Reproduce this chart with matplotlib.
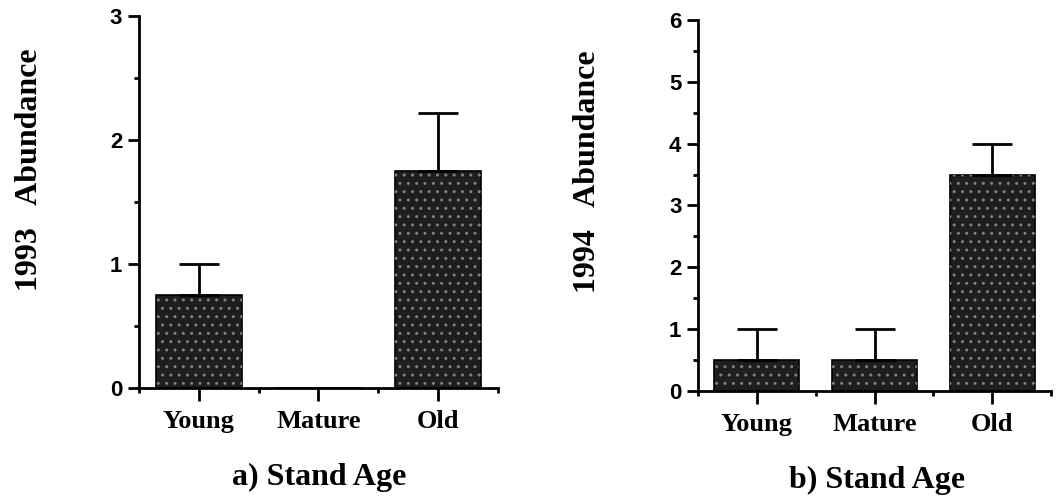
import numpy as np
import matplotlib.pyplot as plt
from matplotlib.ticker import MultipleLocator

# data
categories = ['Young', 'Mature', 'Old']
abund_1993 = [0.75, 0.0, 1.75]
err_1993 = [0.25, 0.0, 0.47]
abund_1994 = [0.5, 0.5, 3.5]
err_1994 = [0.5, 0.5, 0.5]

plt.rcParams['hatch.linewidth'] = 1.0
plt.rcParams['hatch.color'] = '#9a9a9a'

serif = 'Liberation Serif'
sans = 'Liberation Sans'


def draw_panel(ax, means, errs, ymax, ylabel_txt, title_txt, lab_pos, title_pos):
    x = np.arange(len(categories))
    ax.bar(x, means, width=0.72, color='#1e1e1e', edgecolor='black', linewidth=1.2, zorder=2)
    ax.bar(x, means, width=0.72, color='none', edgecolor='#808080', linewidth=0,
           hatch='..', zorder=2)
    # only upper error bars, skip empty categories
    for xi, m, e in zip(x, means, errs):
        if m > 0:
            ax.errorbar(xi, m, yerr=[[0], [e]], fmt='none', ecolor='black',
                        elinewidth=2, capsize=14.5, capthick=2, zorder=3)

    ax.set_xlim(-0.5, 2.5)
    ax.set_ylim(0, ymax)
    ax.yaxis.set_major_locator(MultipleLocator(1))
    ax.yaxis.set_minor_locator(MultipleLocator(0.5))
    ax.set_xticks(x)
    ax.set_xticks([-0.5, 0.5, 1.5, 2.5], minor=True)
    ax.set_xticklabels(categories, fontfamily=serif, fontweight='bold', fontsize=19)
    for lab in ax.get_yticklabels():
        lab.set_fontfamily(sans)
        lab.set_fontweight('bold')
        lab.set_fontsize(16)

    for s in ['top', 'right']:
        ax.spines[s].set_visible(False)
    for s in ['left', 'bottom']:
        ax.spines[s].set_linewidth(2)
    ax.tick_params(axis='both', which='major', direction='out', length=8, width=2, pad=4)
    ax.tick_params(axis='both', which='minor', direction='out', length=3.5, width=2)
    ax.tick_params(axis='x', which='major', length=9, pad=7)

    fig.text(lab_pos[0], lab_pos[1], ylabel_txt, rotation=90, ha='center', va='center',
             fontfamily=serif, fontweight='bold', fontsize=23)
    fig.text(title_pos[0], title_pos[1], title_txt, ha='center', va='center',
             fontfamily=serif, fontweight='bold', fontsize=23)


fig = plt.figure(figsize=(10.56, 4.97), dpi=100)
ax1 = fig.add_axes([0.1316, 0.2193, 0.340, 0.7485])
ax2 = fig.add_axes([0.661, 0.2133, 0.3343, 0.7465])

draw_panel(ax1, abund_1993, err_1993, 3, '1993   Abundance', 'a) Stand Age',
           (0.028, 0.658), (0.302, 0.040))
draw_panel(ax2, abund_1994, err_1994, 6, '1994   Abundance', 'b) Stand Age',
           (0.556, 0.654), (0.8305, 0.034))

plt.savefig('out.png', dpi=100)
